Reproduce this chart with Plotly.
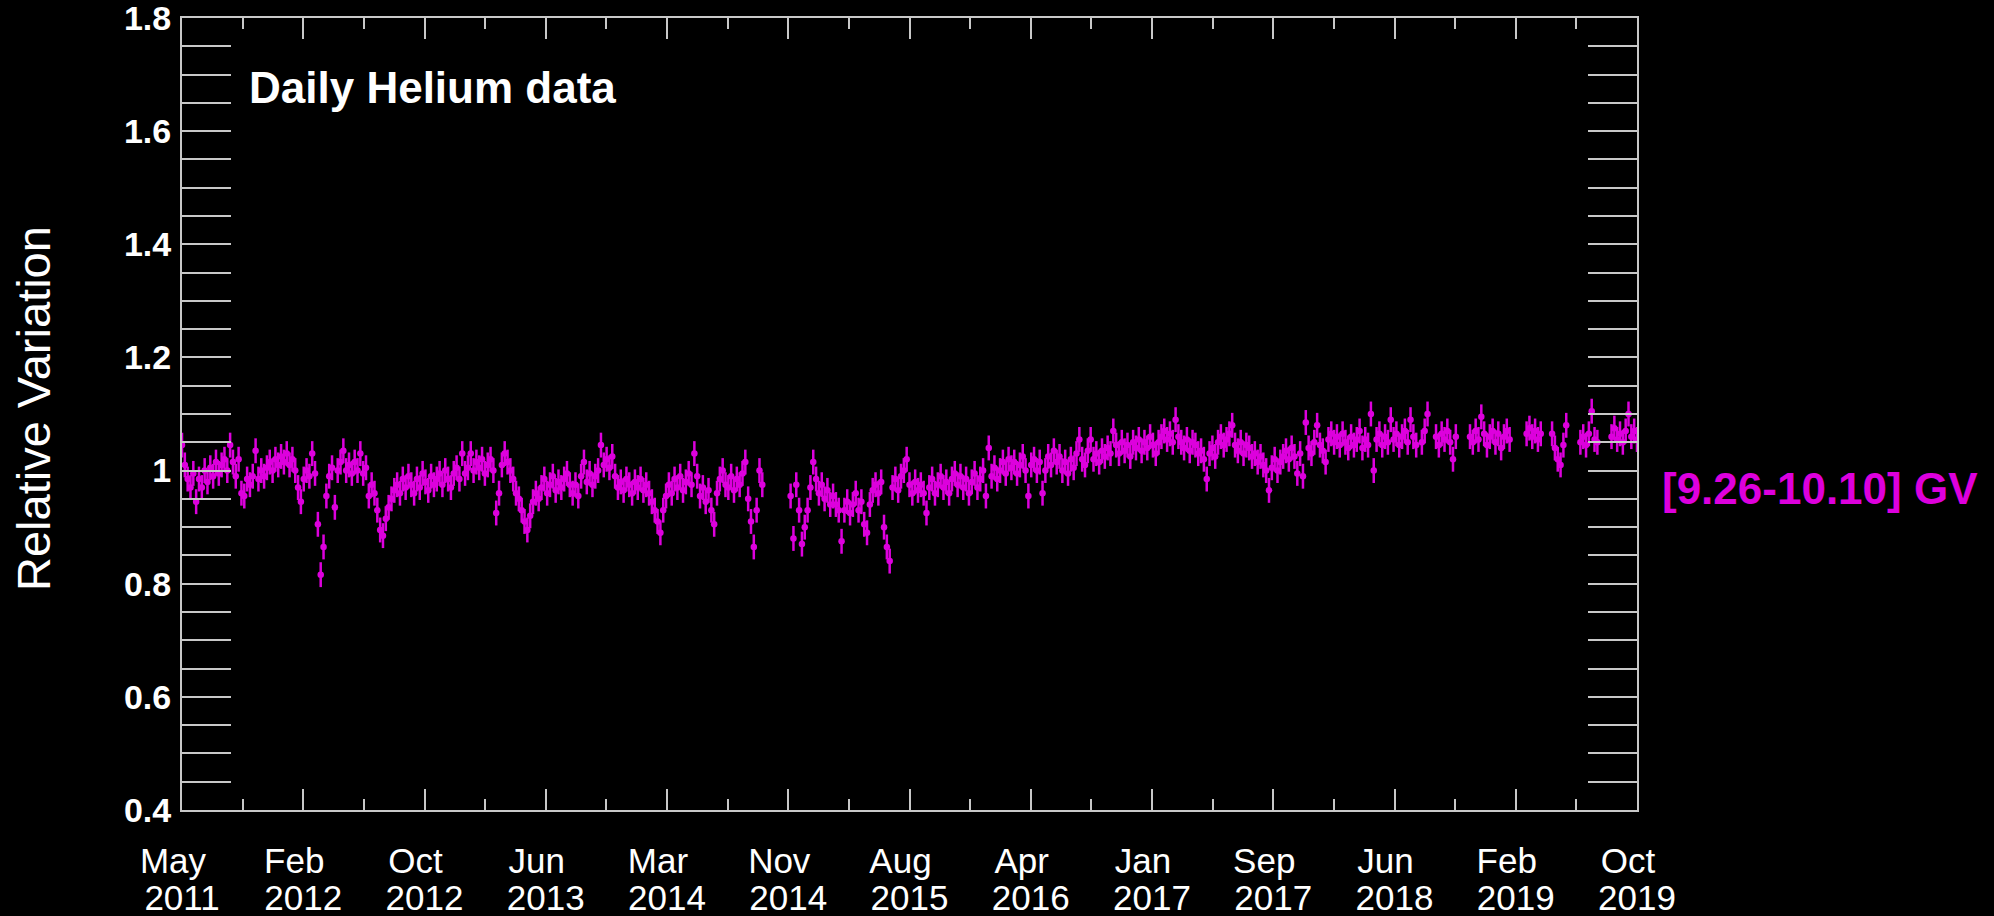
import datetime as dt
import plotly.graph_objects as go

# ---------------- data ----------------
start_date = dt.date(2011, 5, 20)
end_date = dt.date(2019, 10, 29)
step_days = 6          # one reading every 6 days
rel_err = 0.022        # typical error bar half-length

# Relative variation of the helium flux, [9.26-10.10] GV (None = no data)
seg_2011a = [1.045, 1.010, 0.985, 0.970, 0.995, 0.945, 0.985, 0.970, 1.000, 0.980,
             1.005, 0.990, 1.015, 0.995, 1.010, 1.020, 1.000, 1.045, 1.015, 0.990,
             1.020, 0.960, 0.955, 0.985, 0.975, 0.990, 1.035, 0.985, 1.000, 0.990,
             1.005, 1.015, 1.000, 1.020, 1.010, 1.025, 1.015, 1.030, 1.010, 1.020,
             1.000, 0.970, 0.945, 0.985, 1.000, 0.990, 1.030, 0.995, 0.905, 0.816,
             0.865, 0.955, 0.990, 1.005, 0.935, 1.000, 1.015, 1.035, 1.000, 1.010,
             0.995]
seg_2012b = [1.015, 1.000, 1.030, 0.995, 1.005, 0.955, 0.975, 0.960, 0.930, 0.895,
             0.885, 0.915, 0.935, 0.950, 0.965, 0.975, 0.960, 0.985, 0.970, 0.990,
             0.975, 0.960, 0.985, 0.970, 0.995, 0.980, 0.965, 0.990, 0.975, 0.985,
             0.995, 0.975, 1.000, 0.985, 0.970, 0.995, 1.005, 0.985, 1.030, 0.995,
             1.005, 1.030, 1.000, 1.015, 1.005, 1.020, 0.995, 1.010, 1.020, 1.000,
             0.925, 0.960, 1.010, 1.030, 1.015, 1.000, 0.985, 0.960, 0.950, 0.930,
             0.910]
seg_2013c = [0.895, 0.920, 0.945, 0.960, 0.950, 0.970, 0.985, 0.960, 0.975, 0.990,
             0.965, 0.980, 0.970, 0.985, 0.995, 0.975, 0.960, 0.975, 0.955, 0.990,
             1.015, 0.980, 0.995, 0.975, 0.990, 1.000, 1.045, 1.010, 1.020, 1.005,
             1.025, 0.990, 0.970, 0.980, 0.965, 0.985, 0.975, 0.960, 0.980, 0.970,
             0.985, 0.965, 0.975, 0.960, 0.945, 0.930, 0.910, 0.890, 0.930, 0.955,
             0.975, 0.960, 0.985, 0.970, 0.990, 0.965, 0.980, 0.995, 0.975, 1.030,
             0.990]
seg_2014d = [0.955, 0.970, 0.945, 0.965, 0.930, 0.905, 0.960, 0.985, 1.000, 0.975,
             0.970, 0.990, 0.965, 0.985, 0.975, 0.995, 1.015, 0.950, 0.910, 0.865,
             0.930, 1.000, 0.975, None, None, None, None, None, None, None,
             None, None, 0.955, 0.880, 0.975, 0.930, 0.870, 0.900, 0.930, 0.970,
             1.015, 0.985, 0.960, 0.975, 0.950, 0.965, 0.940, 0.955, 0.940, 0.930,
             0.875, 0.930, 0.945, 0.925, 0.940, 0.960, 0.930, 0.945, 0.905, 0.890,
             0.940]
seg_2015e = [0.965, 0.975, 0.960, 0.980, 0.900, 0.865, 0.840, 0.970, 0.985, 0.965,
             0.990, 1.000, 1.020, 0.975, 0.960, 0.980, 0.965, 0.975, 0.960, 0.925,
             0.970, 0.985, 0.960, 0.975, 0.990, 0.970, 0.980, 0.960, 0.985, 0.995,
             0.975, 0.990, 0.970, 0.985, 0.960, 0.980, 0.995, 0.970, 0.985, 1.000,
             0.955, 1.040, 0.990, 1.005, 0.985, 1.000, 1.015, 0.995, 1.020, 1.005,
             1.015, 0.995, 1.010, 1.025, 1.000, 0.955, 1.010, 1.020, 1.000, 1.015,
             0.960]
seg_2016f = [1.000, 1.025, 1.010, 1.035, 1.015, 1.025, 1.000, 1.015, 0.995, 1.020,
             1.005, 1.030, 1.055, 1.020, 1.010, 1.035, 1.055, 1.020, 1.030, 1.015,
             1.035, 1.025, 1.040, 1.030, 1.070, 1.045, 1.030, 1.050, 1.035, 1.045,
             1.025, 1.050, 1.040, 1.055, 1.035, 1.050, 1.040, 1.060, 1.045, 1.030,
             1.050, 1.060, 1.070, 1.055, 1.065, 1.050, 1.090, 1.060, 1.050, 1.040,
             1.055, 1.035, 1.050, 1.045, 1.030, 1.035, 1.020, 0.985, 1.030, 1.040,
             1.025]
seg_2017g = [1.050, 1.060, 1.045, 1.055, 1.065, 1.080, 1.045, 1.035, 1.050, 1.030,
             1.045, 1.040, 1.025, 1.030, 1.015, 1.025, 1.010, 1.000, 0.965, 1.005,
             1.020, 1.000, 1.015, 1.025, 1.035, 1.020, 1.040, 1.025, 0.995, 1.030,
             0.990, 1.085, 1.040, 1.030, 1.050, 1.080, 1.045, 1.035, 1.015, 1.055,
             1.065, 1.050, 1.060, 1.045, 1.065, 1.050, 1.040, 1.060, 1.045, 1.055,
             1.070, 1.040, 1.055, 1.045, 1.100, 1.000, 1.055, 1.065, 1.045, 1.060,
             1.050]
seg_2018h = [1.090, 1.055, 1.065, 1.045, 1.060, 1.070, 1.050, 1.090, 1.060, 1.045,
             None, 1.050, 1.070, 1.100, None, None, 1.060, 1.045, 1.065, 1.055,
             1.070, 1.050, 1.020, 1.060, None, None, None, None, 1.060, 1.050,
             1.070, 1.055, 1.095, 1.065, 1.045, 1.060, 1.070, 1.050, 1.065, 1.040,
             1.060, 1.070, 1.055, None, None, None, None, None, 1.065, 1.075,
             1.060, 1.070, 1.055, 1.065, None, None, None, 1.065, 1.040, 1.020,
             1.010]
seg_2019i = [1.045, 1.080, None, None, None, None, 1.050, 1.060, 1.045, 1.065,
             1.105, 1.055, 1.050, None, None, None, None, 1.060, 1.075, 1.055,
             1.065, 1.050, 1.070, 1.100, 1.060, 1.070, 1.055]

he_values = (seg_2011a + seg_2012b + seg_2013c + seg_2014d + seg_2015e
             + seg_2016f + seg_2017g + seg_2018h + seg_2019i)
he_dates = [start_date + dt.timedelta(days=step_days * k) for k in range(len(he_values))]

tick_months = ["May", "Feb", "Oct", "Jun", "Mar", "Nov", "Aug",
               "Apr", "Jan", "Sep", "Jun", "Feb", "Oct"]
tick_years = ["2011", "2012", "2012", "2013", "2014", "2014", "2015",
              "2016", "2017", "2017", "2018", "2019", "2019"]
y_ticks = [0.4, 0.6, 0.8, 1.0, 1.2, 1.4, 1.6, 1.8]
y_ticktext = ["0.4", "0.6", "0.8", "1", "1.2", "1.4", "1.6", "1.8"]

# ---------------- styling ----------------
MAG = "#DD00DD"
AXC = "#c8c8c8"
total_days = (end_date - start_date).days
n_int = len(tick_months) - 1
tick_step = total_days / n_int
t0 = dt.datetime.combine(start_date, dt.time())
tickvals = [(t0 + dt.timedelta(days=tick_step * k)).strftime("%Y-%m-%d %H:%M")
            for k in range(n_int + 1)]
minor_x = [(t0 + dt.timedelta(days=tick_step * (k + 0.5))).strftime("%Y-%m-%d %H:%M")
           for k in range(n_int)]
minor_y = [round(0.4 + 0.05 * k, 2) for k in range(29)]
x_range = [start_date.isoformat(), end_date.isoformat()]

fig = go.Figure()
fig.add_trace(go.Scatter(
    x=he_dates, y=he_values, mode="markers",
    marker=dict(color=MAG, size=6.5, line=dict(width=0)),
    error_y=dict(type="constant", value=rel_err, color=MAG, thickness=2.5, width=0),
    showlegend=False, hoverinfo="skip",
))
# invisible helper trace so the year axis is drawn
fig.add_trace(go.Scatter(x=[start_date, end_date], y=[None, None], xaxis="x2",
                         mode="markers", showlegend=False, hoverinfo="skip"))

tick_font = dict(family="Liberation Sans, Arial, sans-serif", size=35, color="white")

fig.update_layout(
    template="none",
    width=1994, height=916, autosize=False,
    paper_bgcolor="black", plot_bgcolor="black",
    margin=dict(l=182, r=357, t=18, b=106, pad=0),
    xaxis=dict(
        type="date", range=x_range, automargin=False, ticklabeloverflow="allow",
        tickmode="array", tickvals=tickvals, ticktext=tick_months,
        ticks="inside", ticklen=21, tickwidth=1.5, tickcolor=AXC,
        minor=dict(tickmode="array", tickvals=minor_x, ticks="inside",
                   ticklen=11, tickwidth=1.5, tickcolor=AXC),
        showline=True, linecolor=AXC, linewidth=2, mirror="allticks",
        showgrid=False, zeroline=False,
        tickfont=tick_font, ticklabelstandoff=19, ticklabelshift=-9,
    ),
    xaxis2=dict(
        type="date", range=x_range, overlaying="x", anchor="y", side="bottom",
        matches="x", automargin=False, ticklabeloverflow="allow",
        tickmode="array", tickvals=tickvals, ticktext=tick_years,
        ticks="", showline=False, showgrid=False, zeroline=False,
        tickfont=tick_font, ticklabelstandoff=64,
    ),
    yaxis=dict(
        range=[0.4, 1.8], automargin=False, ticklabeloverflow="allow",
        tickmode="array", tickvals=y_ticks, ticktext=y_ticktext,
        ticks="inside", ticklen=49, tickwidth=1.5, tickcolor=AXC,
        minor=dict(tickmode="array", tickvals=minor_y, ticks="inside",
                   ticklen=25, tickwidth=1.5, tickcolor=AXC),
        showline=True, linecolor=AXC, linewidth=2, mirror="allticks",
        showgrid=False, zeroline=False,
        tickfont=dict(family="Liberation Sans, Arial, sans-serif", size=34,
                      color="white", weight="bold"),
        ticklabelstandoff=2,
    ),
    annotations=[
        dict(text="Daily Helium data", xref="paper", yref="paper",
             x=(247 - 182) / 1455, y=(810 - 87) / 792, xanchor="left", yanchor="middle",
             showarrow=False,
             font=dict(family="Liberation Sans, Arial, sans-serif", size=44,
                       color="white", weight="bold")),
        dict(text="[9.26-10.10] GV", xref="paper", yref="paper",
             x=(1660 - 182) / 1455, y=(810 - 488) / 792, xanchor="left", yanchor="middle",
             showarrow=False,
             font=dict(family="Liberation Sans, Arial, sans-serif", size=44,
                       color=MAG, weight="bold")),
        dict(text="Relative Variation", xref="paper", yref="paper",
             x=(33 - 182) / 1455, y=(810 - 409) / 792, xanchor="center", yanchor="middle",
             textangle=-90, showarrow=False,
             font=dict(family="Liberation Sans, Arial, sans-serif", size=47,
                       color="white")),
    ],
)

fig.write_html("out.html", config={"displayModeBar": False},
               post_script="document.body.style.margin='0px';document.body.style.overflow='hidden';")
